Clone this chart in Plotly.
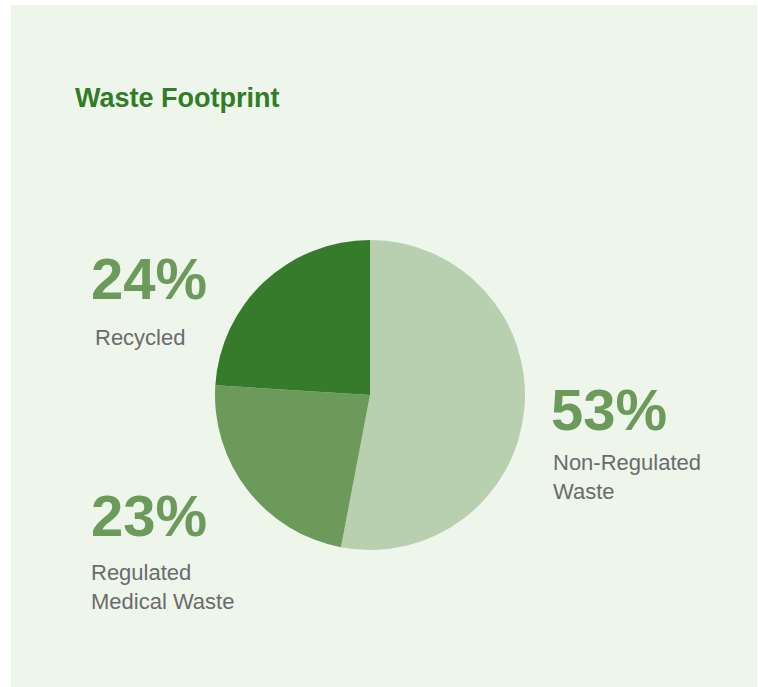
import plotly.graph_objects as go

categories = ["Non-Regulated Waste", "Regulated Medical Waste", "Recycled"]
values = [53, 23, 24]
colors = ["#b8cfb0", "#6b9a5b", "#367a2b"]
pct_labels = ["53%", "23%", "24%"]
name_labels = ["Non-Regulated<br>Waste", "Regulated<br>Medical Waste", "Recycled"]

W, H = 758, 687

def px(x):
    return x / W

def py(y):
    return 1 - y / H

fig = go.Figure()
fig.add_trace(go.Pie(
    labels=categories,
    values=values,
    marker=dict(colors=colors, line=dict(width=0)),
    sort=False,
    direction="clockwise",
    rotation=0,
    textinfo="none",
    hoverinfo="label+percent",
    showlegend=False,
    domain=dict(x=[px(215), px(525)], y=[py(550), py(240)]),
))

# positions: (pct_left, pct_center_y, label_left, label_center_y)
pos = {
    0: (549, 409, 551, 477),
    1: (89, 515, 89, 587),
    2: (89, 279, 93, 337),
}
annotations = []
for i in range(len(categories)):
    x0, y0, x1, y1 = pos[i]
    annotations.append(dict(
        x=px(x0), y=py(y0), xref="paper", yref="paper",
        xanchor="left", yanchor="middle", showarrow=False,
        text=f"<b>{pct_labels[i]}</b>", align="left",
        font=dict(family="Liberation Sans, Arial, sans-serif", size=58, color="#6b9a5b"),
    ))
    annotations.append(dict(
        x=px(x1), y=py(y1), xref="paper", yref="paper",
        xanchor="left", yanchor="middle", showarrow=False,
        text=name_labels[i], align="left",
        font=dict(family="Liberation Sans, Arial, sans-serif", size=22, color="#6b6b6b"),
    ))

annotations.append(dict(
    x=px(73), y=py(98), xref="paper", yref="paper",
    xanchor="left", yanchor="middle", showarrow=False,
    text="<b>Waste Footprint</b>", align="left",
    font=dict(family="Liberation Sans, Arial, sans-serif", size=27, color="#2f7d25"),
))

fig.update_layout(
    width=W, height=H,
    margin=dict(l=0, r=0, t=0, b=0),
    paper_bgcolor="#ffffff",
    plot_bgcolor="#ffffff",
    annotations=annotations,
    shapes=[dict(type="rect", xref="paper", yref="paper",
                 x0=px(11), x1=px(757), y0=0, y1=py(5),
                 fillcolor="#eef6ec", line=dict(width=0), layer="below")],
)

fig.write_html(
    "out.html",
    config={"displayModeBar": False},
    post_script="document.body.style.margin='0';document.body.style.overflow='hidden';",
)
